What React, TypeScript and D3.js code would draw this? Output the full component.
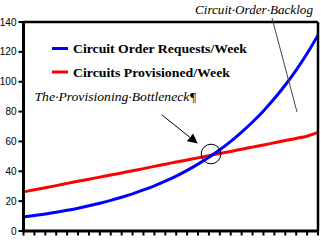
import React from "react";
import * as d3 from "d3";

const weeks = d3.range(0, 28);
const orderRequests = [9.4, 10.4, 11.4, 12.6, 13.9, 15.3, 16.9, 18.6, 20.5, 22.6, 24.9, 27.5, 30.3, 33.4, 36.8, 40.6, 44.8, 49.4, 54.4, 60.0, 66.2, 73.0, 80.4, 88.7, 97.8, 107.8, 118.9, 131.1];
const provisioned = [26.2, 27.6, 29.0, 30.4, 31.9, 33.3, 34.7, 36.1, 37.5, 38.9, 40.3, 41.8, 43.3, 44.7, 46.2, 47.6, 49.0, 50.5, 51.9, 53.3, 54.8, 56.2, 57.6, 59.1, 60.6, 62.0, 63.5, 66.0];
const yTicks = [0, 20, 40, 60, 80, 100, 120, 140];
const legendLabels = ["Circuit Order Requests/Week", "Circuits Provisioned/Week"];
const bottleneckLabel = "The\u00B7Provisioning\u00B7Bottleneck\u00B6";
const backlogLabel = "Circuit\u00B7Order\u00B7Backlog";

export default function App() {
  const W = 321, H = 244;
  const x = d3.scaleLinear().domain([0, 27]).range([23.5, 318]);
  const y = d3.scaleLinear().domain([0, 140]).range([231, 22]);
  const line = d3.line<number>().x((_, i) => x(weeks[i])).y((d) => y(d)).curve(d3.curveMonotoneX);
  const serif = "Liberation Serif";
  return (
    <svg width={W} height={H} style={{ position: "absolute", left: 0, top: 0, background: "#fff" }}>
      <defs>
        <marker id="ah" viewBox="0 0 10 10" refX="9" refY="5" markerWidth="10" markerHeight="10" markerUnits="userSpaceOnUse" orient="auto">
          <path d="M0,0 L10,5 L0,10 z" fill="#000" />
        </marker>
      </defs>
      <rect width={W} height={H} fill="#fff" />
      <path d={line(provisioned) || ""} fill="none" stroke="#ff0000" strokeWidth={3} />
      <path d={line(orderRequests) || ""} fill="none" stroke="#0000ff" strokeWidth={3} />
      <line x1={x(0)} x2={318} y1={22} y2={22} stroke="#000" strokeWidth={2.5} />
      <line x1={318} x2={318} y1={22} y2={231} stroke="#000" strokeWidth={2.5} />
      <line x1={x(0)} x2={x(0)} y1={21} y2={232} stroke="#000" strokeWidth={3} />
      <line x1={x(0)} x2={319} y1={231} y2={231} stroke="#000" strokeWidth={3} />
      {weeks.map((w) => (
        <line key={w} x1={x(w)} x2={x(w)} y1={231} y2={235.5} stroke="#000" strokeWidth={2} />
      ))}
      {yTicks.map((t) => (
        <g key={t}>
          <line x1={18.5} x2={x(0)} y1={y(t)} y2={y(t)} stroke="#000" strokeWidth={2} />
          <text x={16.5} y={y(t) + 3.5} textAnchor="end" fontFamily="Liberation Sans, Arial, sans-serif" fontSize={10} fill="#000">{t}</text>
        </g>
      ))}
      <line x1={52} x2={68} y1={48.5} y2={48.5} stroke="#0000ff" strokeWidth={3} />
      <text x={73} y={53} style={{ fontFamily: serif }} fontWeight="bold" fontSize={12.5} textLength={174} lengthAdjust="spacingAndGlyphs" fill="#000">{legendLabels[0]}</text>
      <line x1={52} x2={68} y1={72} y2={72} stroke="#ff0000" strokeWidth={3} />
      <text x={73} y={76.5} style={{ fontFamily: serif }} fontWeight="bold" fontSize={12.5} textLength={157} lengthAdjust="spacingAndGlyphs" fill="#000">{legendLabels[1]}</text>
      <text x={34.5} y={100.5} style={{ fontFamily: serif }} fontStyle="italic" fontSize={12} textLength={162} lengthAdjust="spacingAndGlyphs" fill="#000">{bottleneckLabel}</text>
      <text x={195} y={14} style={{ fontFamily: serif }} fontStyle="italic" fontSize={12} textLength={118} lengthAdjust="spacingAndGlyphs" fill="#000">{backlogLabel}</text>
      <line x1={272} y1={18} x2={297} y2={112} stroke="#444" strokeWidth={1} />
      <line x1={162} y1={115} x2={197} y2={143} stroke="#000" strokeWidth={1} markerEnd="url(#ah)" />
      <circle cx={211} cy={154} r={9.8} fill="none" stroke="#000" strokeWidth={1} />
    </svg>
  );
}
